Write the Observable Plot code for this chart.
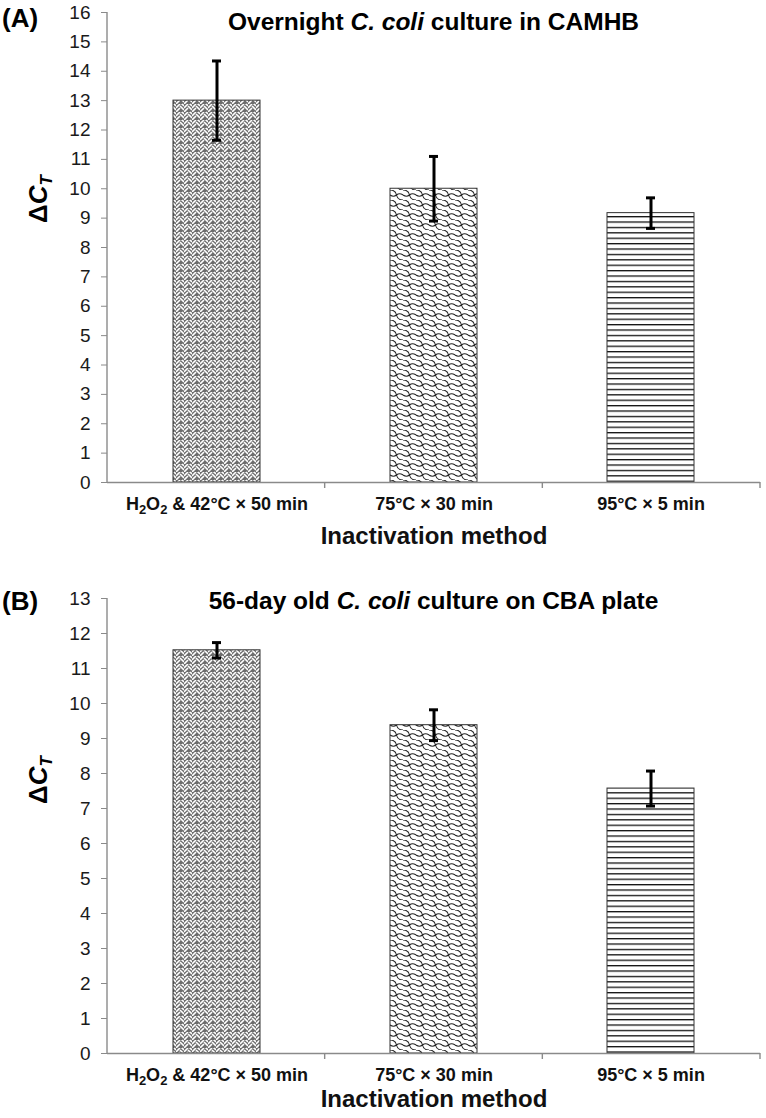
<!DOCTYPE html>
<html><head><meta charset="utf-8">
<script src="https://cdn.jsdelivr.net/npm/d3@7"></script>
<script src="https://cdn.jsdelivr.net/npm/@observablehq/plot@0.6"></script>
<style>
body{margin:0;background:#fff;}
#wrap{position:relative;width:766px;height:1118px;overflow:hidden;font-family:"Liberation Sans",Arial,sans-serif;color:#000;}
.panel{position:absolute;left:0;}
.tag{position:absolute;font-weight:bold;font-size:26px;line-height:1;}
.title{position:absolute;left:107px;width:653px;text-align:center;font-weight:bold;font-size:24.5px;line-height:1;}
.ylab{position:absolute;font-weight:bold;font-size:26px;line-height:1;transform:translate(-50%,-50%) rotate(-90deg);white-space:nowrap;}
.ylab sub{font-size:17px;vertical-align:-5px;}
</style></head><body>
<svg width="0" height="0" style="position:absolute;left:0;top:0">
<defs>
<pattern id="pHerring" patternUnits="userSpaceOnUse" width="8" height="8">
<rect width="8" height="8" fill="#6e6e6e"/>
<path d="M0,4 L4,0 M0,8 L4,4 M4,2 L8,6 M4,-2 L8,2 M6,8 L8,10" fill="none" stroke="#fff" stroke-width="1.6"/>
</pattern>
<pattern id="pShingle" patternUnits="userSpaceOnUse" width="13" height="10">
<rect width="13" height="10" fill="#fff"/>
<path d="M0,0 Q5.5,0 6.5,5 Q7.5,10 13,10 M6.5,5 Q9.5,2.5 13,5 M0,5 Q3.5,7.5 6.5,5" fill="none" stroke="#222" stroke-width="1.1"/>
</pattern>
<pattern id="pLines" patternUnits="userSpaceOnUse" width="10" height="5.4">
<rect width="10" height="5.4" fill="#fff"/>
<rect y="0" width="10" height="1.3" fill="#111"/>
</pattern>
</defs></svg>
<div id="wrap">
  <div class="panel" id="pa" style="top:0"></div>
  <div class="panel" id="pb" style="top:560px"></div>
  <div class="tag" style="left:2px;top:5px">(A)</div>
  <div class="title" style="top:10px">Overnight <i>C. coli</i> culture in CAMHB</div>
  <div class="ylab" style="left:40px;top:199px">Δ<i>C<sub>T</sub></i></div>
  <div class="tag" style="left:2px;top:588px">(B)</div>
  <div class="title" style="top:589px">56-day old <i>C. coli</i> culture on CBA plate</div>
  <div class="ylab" style="left:40px;top:780px">Δ<i>C<sub>T</sub></i></div>
</div>
<script>
const categories = ["H2O2 & 42°C × 50 min", "75°C × 30 min", "95°C × 5 min"];
const patterns = ["url(#pHerring)", "url(#pShingle)", "url(#pLines)"];
const meanA = [13.0, 10.0, 9.17];
const errA = [1.35, 1.1, 0.52];
const meanB = [11.52, 9.38, 7.57];
const errB = [0.22, 0.44, 0.5];
const ticksA = [0,1,2,3,4,5,6,7,8,9,10,11,12,13,14,15,16];
const ticksB = [0,1,2,3,4,5,6,7,8,9,10,11,12,13];
const xTitle = "Inactivation method";

function panel(id, means, errs, yMax, ticks, height, marginTop, marginBottom, titleDy) {
  const data = categories.map((c, i) => ({cat: c, v: means[i], lo: means[i] - errs[i], hi: means[i] + errs[i]}));
  const chart = Plot.plot({
    width: 766, height, marginLeft: 107, marginRight: 6, marginTop, marginBottom,
    style: {fontFamily: "'Liberation Sans', Arial, sans-serif", background: "transparent", overflow: "visible"},
    x: {domain: categories, paddingInner: 0.6, paddingOuter: 0.3, label: null},
    y: {domain: [0, yMax], label: null},
    color: {type: "ordinal", domain: categories, range: patterns},
    marks: [
      Plot.barY(data, {x: "cat", y: "v", fill: "cat", stroke: "#333", strokeWidth: 1}),
      Plot.ruleY([0], {stroke: "#8a8a8a", strokeWidth: 1.4}),
      Plot.ruleX(data, {x: "cat", y1: "lo", y2: "hi", stroke: "#000", strokeWidth: 3}),
      Plot.tickY(data, {x: "cat", y: "lo", stroke: "#000", strokeWidth: 3, insetLeft: 39, insetRight: 39}),
      Plot.tickY(data, {x: "cat", y: "hi", stroke: "#000", strokeWidth: 3, insetLeft: 39, insetRight: 39}),
      Plot.axisY({ticks, tickSize: 6, tickPadding: 11, fontSize: 19, stroke: "#8a8a8a", fill: "#1a1a1a", label: null, tickFormat: d => String(d)}),
      Plot.axisX({tickSize: 0, tickPadding: 15, fontSize: 18, fontWeight: "bold", fontFamily: "'Liberation Sans Narrow', 'Arial Narrow', sans-serif", fill: "#111", label: null}),
      Plot.text([xTitle], {frameAnchor: "bottom", dy: titleDy, fontSize: 24, fontWeight: "bold", fontFamily: "'Liberation Sans Narrow', 'Arial Narrow', sans-serif", fill: "#111"})
    ]
  });
  const svg = d3.select(chart);
  const xs = chart.scale("x"), ys = chart.scale("y");
  const [x0, x1] = xs.range;
  const [yb, yt] = ys.range;
  svg.append("line").attr("x1", x0).attr("x2", x0).attr("y1", yb).attr("y2", yt)
    .attr("stroke", "#8a8a8a").attr("stroke-width", 1.4);
  const n = categories.length;
  for (let i = 1; i <= n; i++) {
    const xb = x0 + i * (x1 - x0) / n;
    svg.append("line").attr("x1", xb).attr("x2", xb).attr("y1", yb).attr("y2", yb + 6)
      .attr("stroke", "#8a8a8a").attr("stroke-width", 1.4);
  }
  svg.selectAll("text").each(function() {
    if (this.textContent === categories[0]) {
      const t = d3.select(this);
      t.text(null);
      t.append("tspan").text("H");
      t.append("tspan").attr("dy", 4).attr("font-size", 13).text("2");
      t.append("tspan").attr("dy", -4).text("O");
      t.append("tspan").attr("dy", 4).attr("font-size", 13).text("2");
      t.append("tspan").attr("dy", -4).text(" & 42°C × 50 min");
    }
  });
  document.getElementById(id).appendChild(chart);
}
panel("pa", meanA, errA, 16, ticksA, 560, 12, 78, 61);
panel("pb", meanB, errB, 13, ticksB, 558, 38, 65, 53);
</script>
</body></html>
